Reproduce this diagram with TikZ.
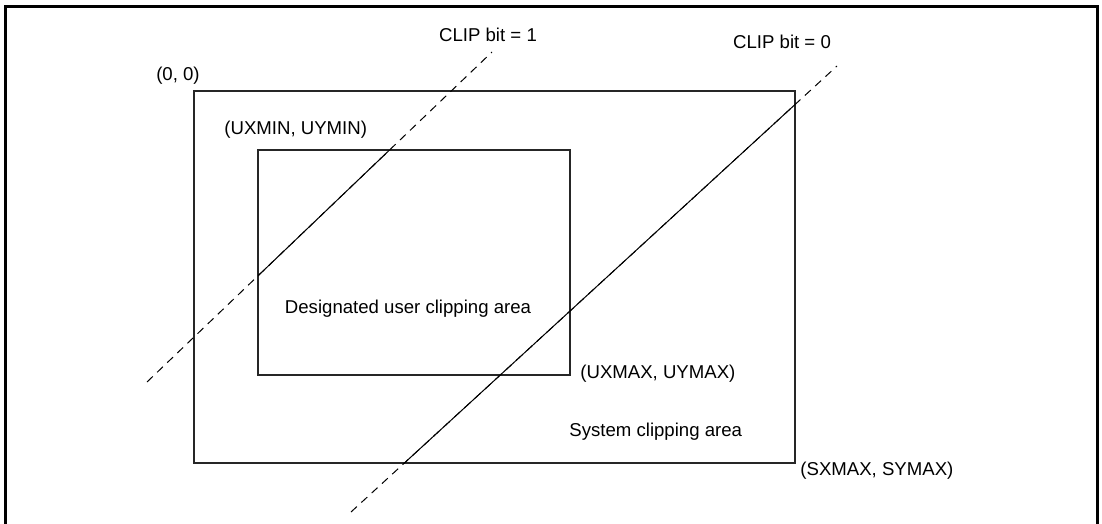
\documentclass[tikz,border=0pt]{standalone}
\usepackage{fontspec}
\setmainfont{Liberation Sans}
\usetikzlibrary{positioning}

\begin{document}
\begin{tikzpicture}[
  x=0.5pt, y=-0.5pt,
  areabox/.style={line width=1.3pt, black!85},
  clipline/.style={line width=0.5pt},
  clipdash/.style={clipline, dash pattern=on 4pt off 3pt},
  lbl/.style={font=\fontsize{9.3}{11}\selectfont, inner sep=0pt}
]
\useasboundingbox (0,0) rectangle (1102,524);
\draw[line width=1.5pt] (5,524) |- (1097,7) -- (1097,524);

\coordinate (sysmin) at (194,91);
\coordinate (sysmax) at (795,463);
\coordinate (usrmin) at (258,150);
\coordinate (usrmax) at (570,375);
\draw[areabox] (sysmin) rectangle (sysmax);
\draw[areabox] (usrmin) rectangle (usrmax);

\coordinate (clipone lo) at (147,382);
\coordinate (clipone hi) at (492,52);
\coordinate (clipzero lo) at (351,512);
\coordinate (clipzero hi) at (837,66);

\draw[clipdash] (clipone lo) -- (clipone hi);
\begin{scope}
  \clip (usrmin) rectangle (usrmax);
  \draw[clipline] (clipone lo) -- (clipone hi);
\end{scope}
\draw[clipdash] (clipzero lo) -- (clipzero hi);
\begin{scope}
  \clip (sysmin) rectangle (sysmax);
  \draw[clipline] (clipzero lo) -- (clipzero hi);
\end{scope}

\node[lbl] (bitone) at (488,35) {CLIP bit = 1};
\node[lbl] (bitzero) at (782,42) {CLIP bit = 0};
\node[lbl] (origin) at (178,76) {(0, 0)};
\node[lbl, anchor=west] (usrminlbl) at (224,130) {(UXMIN, UYMIN)};
\node[lbl] (usrarea) at (408,309) {Designated user clipping area};
\node[lbl, anchor=west] (usrmaxlbl) at (580,374) {(UXMAX, UYMAX)};
\node[lbl, anchor=west] (sysarea) at (569,432) {System clipping area};
\node[lbl, anchor=west] (sysmaxlbl) at (800,471) {(SXMAX, SYMAX)};
\end{tikzpicture}
\end{document}
